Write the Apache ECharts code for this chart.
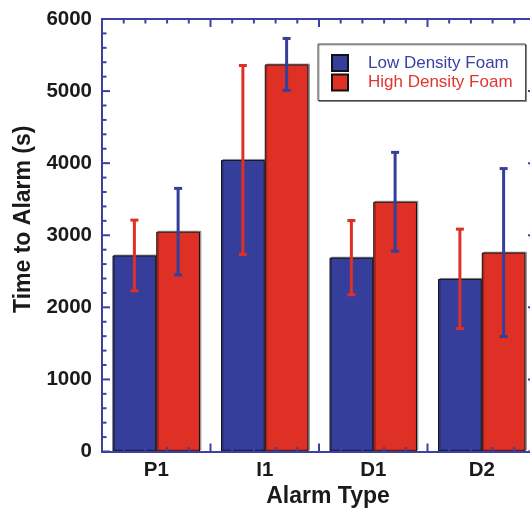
<!DOCTYPE html>
<html>
<head>
<meta charset="utf-8">
<script src="https://cdn.jsdelivr.net/npm/echarts@6/dist/echarts.min.js"></script>
<style>
  html, body { margin: 0; padding: 0; background: #fff; }
  #chart { width: 530px; height: 512px; }
</style>
</head>
<body>
<div id="chart"></div>
<script>
// Alarm response times for two foam densities, mean with ± spread
const categories = ['P1', 'I1', 'D1', 'D2'];
const lowMean  = [2720, 4045, 2690, 2395];
const lowErr   = [490, 1310, 515, 690];
const highMean = [3050, 5370, 3465, 2760];
const highErr  = [600, 360, 685, 1165];
const yTicks   = [0, 1000, 2000, 3000, 4000, 5000, 6000];

const BLUE = '#363e9c';
const RED = '#de3025';
const AXIS = '#3a41a0';
const FONT = '"Liberation Sans", Arial, Helvetica, sans-serif';
const BAR_FRAC = 0.403;
const Y_MAX = yTicks[yTicks.length - 1];
const Y_STEP = yTicks[1] - yTicks[0];
const MINOR = 5;           // minor divisions per major step
const nCat = categories.length;

const chart = echarts.init(document.getElementById('chart'));

function errorBars(means, errs, sign, color) {
  return {
    type: 'custom',
    xAxisIndex: 0,
    yAxisIndex: 0,
    z: 5,
    data: means.map((m, i) => [i, m, errs[i]]),
    renderItem(params, api) {
      const idx = api.value(0), m = api.value(1), e = api.value(2);
      const band = api.size([1, 0])[0];
      const off = sign * band * BAR_FRAC / 2;
      const top = api.coord([idx, m + e]);
      const bot = api.coord([idx, m - e]);
      const x = top[0] + off;
      const cap = 4;
      const style = { stroke: color, lineWidth: 3 };
      return {
        type: 'group',
        children: [
          { type: 'line', shape: { x1: x, y1: top[1], x2: x, y2: bot[1] }, style },
          { type: 'line', shape: { x1: x - cap, y1: top[1], x2: x + cap, y2: top[1] }, style },
          { type: 'line', shape: { x1: x - cap, y1: bot[1], x2: x + cap, y2: bot[1] }, style }
        ]
      };
    }
  };
}

// Inward-pointing major/minor ticks on all four sides of the plot frame,
// positioned from the chart's own scales.
const frameTicks = {
  type: 'custom',
  xAxisIndex: 0,
  yAxisIndex: 0,
  z: 8,
  silent: true,
  clip: false,
  data: [[0, 0]],
  renderItem(params, api) {
    const band = api.size([1, 0])[0];
    const origin = api.coord([0, 0]);
    const left = origin[0] - band / 2;
    const right = left + band * nCat;
    const bottom = origin[1];
    const top = api.coord([0, Y_MAX])[1];
    const style = { stroke: AXIS, lineWidth: 2 };
    const kids = [];
    const seg = (x1, y1, x2, y2) => kids.push({ type: 'line', shape: { x1, y1, x2, y2 }, style });
    const yStep = Y_STEP / MINOR;
    for (let k = 0; k * yStep <= Y_MAX; k++) {
      const y = api.coord([0, k * yStep])[1];
      const len = k % MINOR === 0 ? 8 : 4.5;
      seg(left, y, left + len, y);
      seg(right, y, right - len, y);
    }
    for (let k = 0; k <= nCat * MINOR; k++) {
      const x = left + k * band / MINOR;
      const len = k % MINOR === 0 ? 8 : 4.5;
      seg(x, bottom, x, bottom - len);
      seg(x, top, x, top + len);
    }
    return { type: 'group', children: kids };
  }
};

const lineOnly = {
  show: true, onZero: false, lineStyle: { color: AXIS, width: 2 }
};

const barStyle = color => ({
  color,
  borderColor: '#111',
  borderWidth: 1,
  shadowColor: 'rgba(0,0,0,0.3)',
  shadowBlur: 0,
  shadowOffsetX: 1.5,
  shadowOffsetY: -1
});

chart.setOption({
  animation: false,
  backgroundColor: '#fff',
  // the plot frame runs a little past the right edge of the canvas
  grid: { left: 102, top: 19, width: 434, height: 432.5, containLabel: false, outerBoundsMode: 'none' },
  legend: {
    orient: 'vertical',
    left: 318,
    top: 44,
    padding: [10, 13, 9, 13],
    itemWidth: 16,
    itemHeight: 16,
    itemGap: 1.5,
    icon: 'rect',
    backgroundColor: '#fff',
    borderColor: '#444',
    borderWidth: 1,
    shadowColor: 'rgba(0,0,0,0.35)',
    shadowBlur: 0,
    shadowOffsetX: 1,
    shadowOffsetY: 1,
    textStyle: { fontFamily: FONT, fontSize: 17, padding: [0, 0, 0, 15] },
    data: [
      { name: 'Low Density Foam', textStyle: { color: '#3a42a6' } },
      { name: 'High Density Foam', textStyle: { color: '#e2352f' } }
    ]
  },
  xAxis: [
    {
      type: 'category',
      data: categories,
      position: 'bottom',
      z: 10,
      axisLine: lineOnly,
      axisTick: { show: false },
      axisLabel: { color: '#1a1a1a', fontFamily: FONT, fontWeight: 'bold', fontSize: 20.5, margin: 8 },
      name: 'Alarm Type',
      nameLocation: 'middle',
      nameGap: 33,
      nameTextStyle: { color: '#1a1a1a', fontFamily: FONT, fontWeight: 'bold', fontSize: 23, padding: [0, 0, 0, 18] }
    },
    {
      type: 'category',
      data: categories,
      position: 'top',
      z: 10,
      axisLine: lineOnly,
      axisTick: { show: false },
      axisLabel: { show: false }
    }
  ],
  yAxis: [
    {
      type: 'value',
      position: 'left',
      min: 0,
      max: Y_MAX,
      interval: Y_STEP,
      z: 10,
      axisLine: lineOnly,
      axisTick: { show: false },
      splitLine: { show: false },
      axisLabel: {
        color: '#1a1a1a', fontFamily: FONT, fontWeight: 'bold', fontSize: 20.5, margin: 10,
        formatter: v => String(v)
      },
      name: 'Time to Alarm (s)',
      nameLocation: 'middle',
      nameGap: 66,
      nameTextStyle: { color: '#1a1a1a', fontFamily: FONT, fontWeight: 'bold', fontSize: 23, padding: [0, 0, 0, 32] }
    },
    {
      type: 'value',
      position: 'right',
      min: 0,
      max: Y_MAX,
      interval: Y_STEP,
      z: 10,
      axisLine: lineOnly,
      axisTick: { show: false },
      splitLine: { show: false },
      axisLabel: { show: false }
    }
  ],
  series: [
    {
      name: 'Low Density Foam',
      type: 'bar',
      xAxisIndex: 0,
      yAxisIndex: 0,
      barWidth: (BAR_FRAC * 100) + '%',
      barGap: '0%',
      itemStyle: barStyle(BLUE),
      data: lowMean
    },
    {
      name: 'High Density Foam',
      type: 'bar',
      xAxisIndex: 0,
      yAxisIndex: 0,
      barWidth: (BAR_FRAC * 100) + '%',
      barGap: '0%',
      itemStyle: barStyle(RED),
      data: highMean
    },
    errorBars(lowMean, lowErr, -1, RED),
    errorBars(highMean, highErr, 1, BLUE),
    frameTicks
  ]
});
</script>
</body>
</html>
